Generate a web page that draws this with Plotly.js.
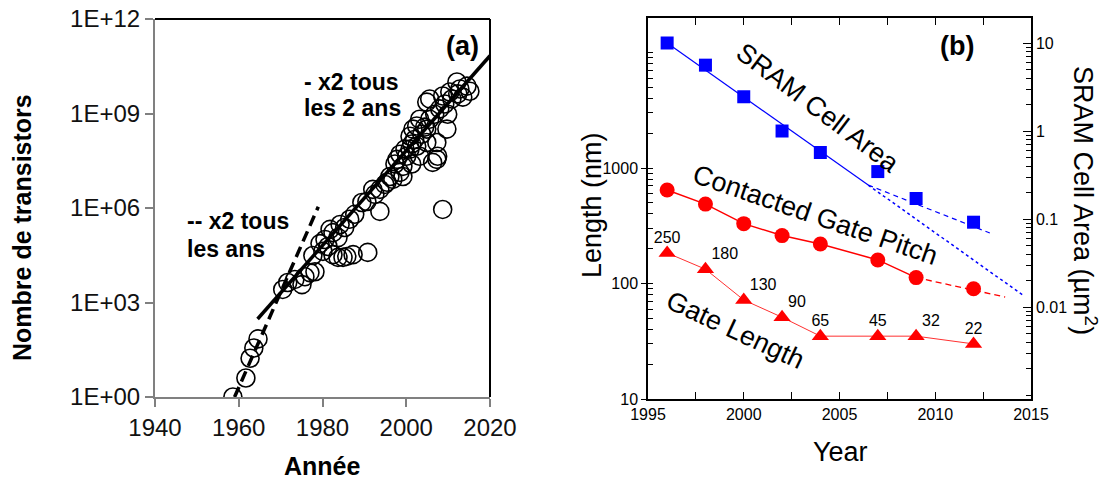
<!DOCTYPE html>
<html>
<head>
<meta charset="utf-8">
<script src="https://cdn.plot.ly/plotly-3.0.1.min.js"></script>
<style>html,body{margin:0;padding:0;background:#fff;}#chart{width:1106px;height:481px;}</style>
</head>
<body>
<div id="chart"></div>
<script>
// ---------- Panel (a): transistor count per chip ----------
const chipYears = [1958.6,1961.7,1962.7,1963.6,1964.6,1970.5,1971.7,1973.4,1975.1,1975.8,1978.2,1977.7,1979.4,1977.0,
  1982.5,1983.7,1984.9,1985.8,1987.3,1990.8,1980.6,1981.8,1984.2,1982.5,1989.4,1990.6,1993.7,1992.0,1993.7,1995.4,
  1996.8,1998.5,1999.2,1998.5,2000.9,2002.5,2004.9,2007.3,2008.7,2006.3,2007.5,2002.5,2003.2,2004.9,2005.6,2008.7,
  2010.4,2012.8,2014.5,2012.1,2015.2,2009.7,2007.3,2000.9,1997.8,1996.1,1999.2,2000.1,2003.2,1999.7,2001.3,2002.0,
  2003.7,2004.4,2005.6,2006.8,2008.0,2009.2,2010.9,1997.3,1994.9,1992.5,1987.7,1986.5,1985.3,1983.7,1981.3,1980.1,
  2012.3,2013.5,2009.9,2001.3,2004.9,2001.6];
const chipCounts = [1,4,17,36,70,2600,4300,5400,3700,6600,9500,31000,74000,8900,
  33000,27000,27000,29000,33000,39000,100000,210000,300000,165000,1.5e6,1.6e6,7.8e5,3.9e6,3.9e6,6.6e6,
  8.1e6,1.35e7,2.1e7,5.1e7,7.4e7,9.1e7,1.2e8,3.5e7,9e5,2.8e7,4.4e7,4e8,6.6e8,2.3e9,2.9e9,3.6e9,
  4.8e9,6e9,7.4e9,1e10,5.1e9,3.2e8,1.2e8,1.9e8,3.5e7,1e7,1e7,4.4e7,4.4e7,7.4e7,1.07e8,1.5e8,
  2.2e8,3.7e8,6.6e8,9.5e8,1.4e9,2e9,2.9e9,2.5e7,5.6e6,2.7e6,6.3e5,4.4e5,2.4e5,1.15e5,6e4,4.2e4,
  4.2e9,3.3e9,9.5e8,2.5e7,3.2e8,3.2e8];
// x2 every 2 years (solid) and x2 every year (dashed)
const twoYearTrendYears = [1964.5, 2020];
const twoYearTrendCounts = [300, 6.8e10];
const oneYearTrendYears = [1959, 1979];
const oneYearTrendCounts = [1, 1.1e6];
const aTickVals = [1, 1e3, 1e6, 1e9, 1e12];
const aTickText = ['1E+00','1E+03','1E+06','1E+09','1E+12'];

// ---------- Panel (b): scaling by node ----------
const nodeYears = [1996, 1998, 2000, 2002, 2004, 2007, 2009, 2012];
const nodeLabels = ['250','180','130','90','65','45','32','22'];
const sramArea = [10, 5.6, 2.45, 1.0, 0.57, 0.346, 0.171, 0.092];
const gatePitch = [645, 487, 330, 260, 220, 160, 112.5, 90];
const gateLength = [184, 133, 72, 51, 35, 35, 35, 30];
const sramFitYears = [1996, 2006.5];
const sramFitArea = [10, 0.243];
const sramFitExtYears = [2006.5, 2014.65];
const sramFitExtArea = [0.243, 0.0133];
const sramRecentYears = [2006.5, 2012.85];
const sramRecentArea = [0.243, 0.0693];
const pitchSolidYears = nodeYears.slice(0, 7);
const pitchSolidValues = gatePitch.slice(0, 7);
const pitchDashYears = [2009, 2013.65];
const pitchDashValues = [112.5, 76.4];
const lengthTickVals = [10, 100, 1000];
const lengthTickText = ['10', '100', '1000'];
const areaTickVals = [0.01, 0.1, 1, 10];
const areaTickText = ['0.01', '0.1', '1', '10'];

const FONT = 'Liberation Sans, Arial, Helvetica, sans-serif';
const W = 1106, H = 481;
const px = v => v / W, py = v => 1 - v / H;

const traces = [
  {x: chipYears, y: chipCounts, xaxis:'x', yaxis:'y', mode:'markers', type:'scatter',
   marker:{symbol:'circle-open', size:18, color:'#000', line:{width:1.6, color:'#000'}}},
  {x: twoYearTrendYears, y: twoYearTrendCounts, xaxis:'x', yaxis:'y', mode:'lines',
   line:{color:'#000', width:3.5}},
  {x: oneYearTrendYears, y: oneYearTrendCounts, xaxis:'x', yaxis:'y', mode:'lines',
   line:{color:'#000', width:3.5, dash:'11px,6px'}},

  {x: sramFitYears, y: sramFitArea, xaxis:'x2', yaxis:'y3', mode:'lines', line:{color:'#0000ff', width:1.2}},
  {x: sramFitExtYears, y: sramFitExtArea, xaxis:'x2', yaxis:'y3', mode:'lines', line:{color:'#0000ff', width:1.5, dash:'dot'}},
  {x: sramRecentYears, y: sramRecentArea, xaxis:'x2', yaxis:'y3', mode:'lines', line:{color:'#0000ff', width:1.2, dash:'5px,4px'}},
  {x: nodeYears, y: sramArea, xaxis:'x2', yaxis:'y3', mode:'markers',
   marker:{symbol:'square', size:13, color:'#0000ff'}},

  {x: pitchSolidYears, y: pitchSolidValues, xaxis:'x2', yaxis:'y2', mode:'lines', line:{color:'#ff0000', width:1.5}},
  {x: pitchDashYears, y: pitchDashValues, xaxis:'x2', yaxis:'y2', mode:'lines', line:{color:'#ff0000', width:1.3, dash:'6px,4px'}},
  {x: nodeYears, y: gatePitch, xaxis:'x2', yaxis:'y2', mode:'markers',
   marker:{symbol:'circle', size:15, color:'#ff0000'}},

  {x: nodeYears, y: gateLength, xaxis:'x2', yaxis:'y2', mode:'lines+markers',
   line:{color:'#ff3030', width:1},
   marker:{symbol:'triangle-up', size:15, color:'#ff0000'}},
  {x: nodeYears, y: gateLength, xaxis:'x2', yaxis:'y2', mode:'markers+text',
   marker:{size:8, color:'rgba(0,0,0,0)'},
   text: nodeLabels,
   textposition:['top center','top right','top right','top right','top center','top center','top right','top center'],
   textfont:{family:FONT, size:16, color:'#000'}, hoverinfo:'skip'}
];

const annFont = (size) => ({family:FONT, size:size, color:'#000'});
const annotations = [
  {text:'<b>(a)</b>', x:px(462), y:py(46), font:annFont(27)},
  {text:'<b>- x2 tous</b>', x:px(302), y:py(82), xanchor:'left', font:annFont(23)},
  {text:'<b>les 2 ans</b>', x:px(302), y:py(108), xanchor:'left', font:annFont(23)},
  {text:'<b>-- x2 tous</b>', x:px(185), y:py(221), xanchor:'left', font:annFont(23)},
  {text:'<b>les ans</b>', x:px(185), y:py(249), xanchor:'left', font:annFont(23)},
  {text:'<b>Nombre de transistors</b>', x:px(22), y:py(228), textangle:-90, font:annFont(25)},
  {text:'<b>Année</b>', x:px(322), y:py(466), font:annFont(25)},

  {text:'<b>(b)</b>', x:px(957), y:py(46), font:annFont(27)},
  {text:'SRAM Cell Area', x:px(818), y:py(108), textangle:37, font:annFont(27)},
  {text:'Contacted Gate Pitch', x:px(815), y:py(215), textangle:19, font:annFont(27)},
  {text:'Gate Length', x:px(735), y:py(330), textangle:25, font:annFont(27)},
  {text:'Length (nm)', x:px(592), y:py(205), textangle:-90, font:annFont(27)},
  {text:'Year', x:px(840), y:py(452), font:annFont(27)},
  {text:'SRAM Cell Area (µm<sup>2</sup>)', x:px(1085), y:py(200), textangle:90, font:annFont(27)}
].map(a => Object.assign({xref:'paper', yref:'paper', showarrow:false, xanchor:'center', yanchor:'middle'}, a));

const layout = {
  width: W, height: H,
  margin:{l:0, r:0, t:0, b:0},
  paper_bgcolor:'#fff', plot_bgcolor:'#fff',
  showlegend:false,
  font:{family:FONT, color:'#000'},
  xaxis:{domain:[px(155), px(490)], range:[1940, 2020], anchor:'y',
    tickmode:'linear', tick0:1940, dtick:20, ticks:'outside', ticklen:8, tickwidth:2, tickcolor:'#808080',
    showline:true, linecolor:'#808080', linewidth:2, showgrid:false, zeroline:false,
    tickfont:{family:FONT, size:24, color:'#111'}},
  yaxis:{domain:[1 - 397/H, 1 - 19/H], type:'log', range:[0, 12], anchor:'x',
    tickmode:'array', tickvals:aTickVals, ticktext:aTickText, ticks:'outside', ticklen:8, tickwidth:2, tickcolor:'#808080',
    showline:true, linecolor:'#808080', linewidth:2, showgrid:false, zeroline:false,
    tickfont:{family:FONT, size:24, color:'#111'}},

  xaxis2:{domain:[px(648), px(1031)], range:[1995, 2015], anchor:'y2',
    tickmode:'linear', tick0:1995, dtick:5, ticks:'inside', ticklen:7, tickwidth:1.2, tickcolor:'#000',
    minor:{tickmode:'linear', tick0:1995, dtick:2.5, ticks:'inside', ticklen:7, tickwidth:1.2, tickcolor:'#000', showgrid:false},
    showline:true, linecolor:'#000', linewidth:1.5, mirror:'allticks', showgrid:false, zeroline:false,
    tickfont:{family:FONT, size:16, color:'#000'}},
  yaxis2:{domain:[1 - 399/H, 1 - 18/H], type:'log', range:[1, 4.299], anchor:'x2',
    tickmode:'array', tickvals:lengthTickVals, ticktext:lengthTickText, ticks:'outside', ticklen:5, tickwidth:1.2, tickcolor:'#000',
    minor:{tickmode:'linear', tick0:0, dtick:'D1', ticks:'inside', ticklen:5, tickwidth:1, tickcolor:'#000', showgrid:false},
    showline:true, linecolor:'#000', linewidth:1.5, showgrid:false, zeroline:false,
    tickfont:{family:FONT, size:16, color:'#000'}},
  yaxis3:{type:'log', range:[-3.045, 1.284], overlaying:'y2', side:'right', anchor:'x2',
    tickmode:'array', tickvals:areaTickVals, ticktext:areaTickText, ticks:'inside', ticklen:8, tickwidth:1.2, tickcolor:'#000',
    minor:{tickmode:'linear', tick0:0, dtick:'D1', ticks:'inside', ticklen:5, tickwidth:1, tickcolor:'#000', showgrid:false},
    showline:true, linecolor:'#000', linewidth:1.5, showgrid:false, zeroline:false,
    tickfont:{family:FONT, size:16, color:'#000'}},

  shapes:[
    {type:'line', xref:'x domain', yref:'y domain', x0:0, x1:1, y0:1, y1:1, line:{color:'#000', width:2}},
    {type:'line', xref:'x domain', yref:'y domain', x0:1, x1:1, y0:0, y1:1, line:{color:'#000', width:2}}
  ],
  annotations: annotations
};

Plotly.newPlot('chart', traces, layout, {displayModeBar:false, responsive:false});
</script>
</body>
</html>
